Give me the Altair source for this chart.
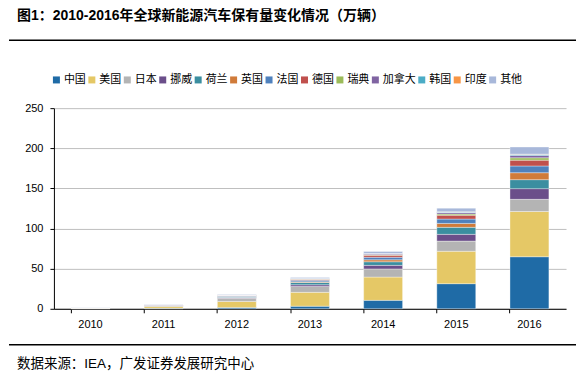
import altair as alt
import pandas as pd

years = ["2010", "2011", "2012", "2013", "2014", "2015", "2016"]
countries = ["中国", "美国", "日本", "挪威", "荷兰", "英国", "法国", "德国", "瑞典", "加拿大", "韩国", "印度", "其他"]
colors = ["#1F6BA6", "#E5C866", "#B4B4B4", "#6B4E8A", "#3B8EA0", "#D07B3A", "#4F81BD",
          "#C0504D", "#9BBB59", "#8064A2", "#4BACC6", "#F79646", "#A8B8DA"]

china = [0.19, 0.69, 1.68, 3.22, 10.5, 31.28, 64.88]
usa = [0.38, 2.14, 7.48, 17.27, 29.02, 40.41, 56.37]
japan = [0.35, 1.29, 3.83, 7.41, 10.17, 12.64, 15.13]
norway = [0.36, 0.59, 1.02, 2.05, 4.42, 8.42, 13.33]
netherlands = [0.03, 0.14, 0.69, 2.81, 4.50, 8.75, 11.2]
uk = [0.07, 0.25, 0.52, 0.87, 2.41, 4.85, 8.64]
france = [0.03, 0.30, 0.93, 1.85, 3.15, 5.45, 8.40]
germany = [0.03, 0.20, 0.51, 1.21, 2.49, 4.81, 7.27]
sweden = [0.0, 0.02, 0.14, 0.32, 0.73, 1.45, 2.93]
canada = [0.0, 0.05, 0.25, 0.55, 1.07, 1.85, 2.93]
korea = [0.01, 0.03, 0.09, 0.15, 0.29, 0.57, 1.12]
india = [0.0, 0.04, 0.04, 0.04, 0.10, 0.44, 0.48]
others = [0.2, 0.3, 0.6, 1.2, 2.5, 4.5, 8.9]

series = [china, usa, japan, norway, netherlands, uk, france, germany, sweden, canada, korea, india, others]

rows = []
for i, (name, vals) in enumerate(zip(countries, series)):
    for y, v in zip(years, vals):
        rows.append({"year": y, "country": name, "value": v, "idx": i})
df = pd.DataFrame(rows)

LATIN = "Liberation Sans, Noto Sans CJK SC"
CJK = "Noto Sans CJK SC"

bars = alt.Chart(df).mark_bar(stroke="white", strokeWidth=0.8, strokeOpacity=0.45).encode(
    x=alt.X("year:N", sort=years, title=None,
            scale=alt.Scale(paddingInner=0.468, paddingOuter=0.234),
            axis=alt.Axis(labelAngle=0, domainColor="black", tickColor="black", tickSize=4,
                          bandPosition=0, labelPadding=6, labelFont=LATIN, labelFontSize=11,
                          labelColor="black", grid=False)),
    y=alt.Y("sum(value):Q", title=None, stack="zero",
            scale=alt.Scale(domain=[0, 250], nice=False),
            axis=alt.Axis(values=[0, 50, 100, 150, 200, 250], domainColor="black", tickColor="black",
                          tickSize=4, labelPadding=7, labelFont=LATIN, labelFontSize=11,
                          labelColor="black", gridColor="#BFBFBF", gridWidth=1)),
    color=alt.Color("country:N", sort=countries,
                    scale=alt.Scale(domain=countries, range=colors),
                    legend=alt.Legend(title=None, orient="none", legendX=-3, legendY=-34,
                                      direction="horizontal", columns=13, symbolType="square",
                                      symbolSize=49, symbolStrokeWidth=0, labelFont=CJK,
                                      labelFontSize=11, labelOffset=2, columnPadding=0.5,
                                      padding=0, labelColor="black")),
    order=alt.Order("idx:Q", sort="ascending"),
)

title = alt.Chart(pd.DataFrame({"t": ["图1：2010-2016年全球新能源汽车保有量变化情况（万辆）"]})).mark_text(
    align="left", baseline="middle", font=LATIN, fontSize=14, fontWeight="bold", color="black"
).encode(text="t:N", x=alt.value(-37), y=alt.value(-92))

footer = alt.Chart(pd.DataFrame({"t": ["数据来源：IEA，广发证券发展研究中心"]})).mark_text(
    align="left", baseline="middle", font=LATIN, fontSize=13.5, color="black"
).encode(text="t:N", x=alt.value(-37), y=alt.value(256))

line_top = alt.Chart(pd.DataFrame({"a": [0]})).mark_rule(color="black", strokeWidth=1.5).encode(
    x=alt.value(-45), x2=alt.value(523), y=alt.value(-68))
line_bot = alt.Chart(pd.DataFrame({"a": [0]})).mark_rule(color="black", strokeWidth=1.5).encode(
    x=alt.value(-45), x2=alt.value(523), y=alt.value(237))

chart = alt.layer(bars, title, footer, line_top, line_bot).properties(
    width=513, height=201,
    autosize=alt.AutoSizeParams(type="none"),
    padding={"left": 46, "top": 100, "right": 12, "bottom": 63},
).configure_view(stroke=None)

chart.save("out.html", embed_options={"renderer": "svg", "actions": False})
